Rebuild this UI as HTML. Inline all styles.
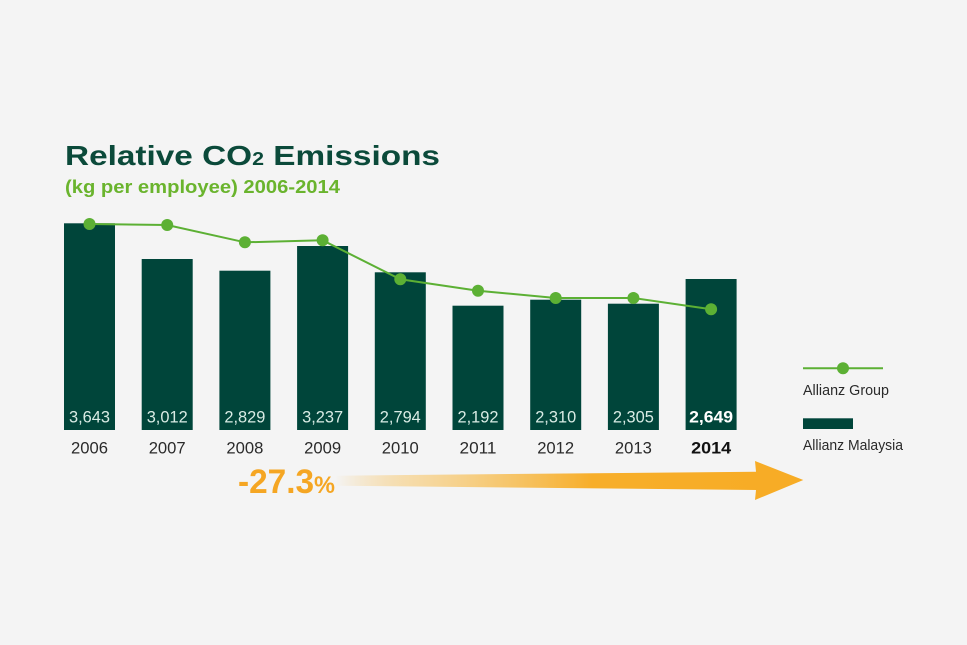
<!DOCTYPE html>
<html><head><meta charset="utf-8"><style>
html,body{margin:0;padding:0;background:#f4f4f4;}
svg{display:block;}
</style></head><body>
<svg width="967" height="645" viewBox="0 0 967 645" xmlns="http://www.w3.org/2000/svg" font-family="'Liberation Sans', sans-serif">
<defs>
<linearGradient id="ag" x1="335" y1="0" x2="803" y2="0" gradientUnits="userSpaceOnUse">
<stop offset="0" stop-color="#f7ac25" stop-opacity="0"/>
<stop offset="0.15" stop-color="#f7c462" stop-opacity="0.5"/>
<stop offset="0.55" stop-color="#f7ae2a" stop-opacity="1"/>
<stop offset="1" stop-color="#f7ac25" stop-opacity="1"/>
</linearGradient>
</defs>
<rect width="967" height="645" fill="#f4f4f4"/>
<text x="65" y="165" font-size="28" font-weight="bold" fill="#0b4a3a" textLength="375" lengthAdjust="spacingAndGlyphs">Relative CO<tspan font-size="18">2</tspan> Emissions</text>
<text x="65" y="193" font-size="18" font-weight="bold" fill="#6ab42d" textLength="275" lengthAdjust="spacingAndGlyphs">(kg per employee) 2006-2014</text>
<g fill="#00453a">
<rect x="64" y="223.3" width="51" height="206.7"/>
<rect x="141.7" y="259" width="51" height="171"/>
<rect x="219.4" y="270.7" width="51" height="159.3"/>
<rect x="297.1" y="246" width="51" height="184"/>
<rect x="374.8" y="272.3" width="51" height="157.7"/>
<rect x="452.5" y="305.7" width="51" height="124.3"/>
<rect x="530.2" y="299.7" width="51" height="130.3"/>
<rect x="607.9" y="303.7" width="51" height="126.3"/>
<rect x="685.6" y="279" width="51" height="151"/>
</g>
<polyline points="89.5,224 167.2,225 244.9,242.3 322.6,240.3 400.3,279.3 478,290.7 555.7,298 633.4,298 711.1,309.3" fill="none" stroke="#5cb034" stroke-width="2"/>
<g fill="#5cb034">
<circle cx="89.5" cy="224" r="6"/><circle cx="167.2" cy="225" r="6"/><circle cx="244.9" cy="242.3" r="6"/><circle cx="322.6" cy="240.3" r="6"/><circle cx="400.3" cy="279.3" r="6"/><circle cx="478" cy="290.7" r="6"/><circle cx="555.7" cy="298" r="6"/><circle cx="633.4" cy="298" r="6"/><circle cx="711.1" cy="309.3" r="6"/>
</g>
<g font-size="17" fill="#d8ebe4" text-anchor="middle">
<text x="89.5" y="422.7" textLength="41" lengthAdjust="spacingAndGlyphs">3,643</text>
<text x="167.2" y="422.7" textLength="41" lengthAdjust="spacingAndGlyphs">3,012</text>
<text x="244.9" y="422.7" textLength="41" lengthAdjust="spacingAndGlyphs">2,829</text>
<text x="322.6" y="422.7" textLength="41" lengthAdjust="spacingAndGlyphs">3,237</text>
<text x="400.3" y="422.7" textLength="41" lengthAdjust="spacingAndGlyphs">2,794</text>
<text x="478" y="422.7" textLength="41" lengthAdjust="spacingAndGlyphs">2,192</text>
<text x="555.7" y="422.7" textLength="41" lengthAdjust="spacingAndGlyphs">2,310</text>
<text x="633.4" y="422.7" textLength="41" lengthAdjust="spacingAndGlyphs">2,305</text>
<text x="711.1" y="422.7" textLength="44" lengthAdjust="spacingAndGlyphs" font-weight="bold" fill="#ffffff">2,649</text>
</g>
<g font-size="17" fill="#2a2a2a" text-anchor="middle">
<text x="89.5" y="453.3" textLength="37" lengthAdjust="spacingAndGlyphs">2006</text>
<text x="167.2" y="453.3" textLength="37" lengthAdjust="spacingAndGlyphs">2007</text>
<text x="244.9" y="453.3" textLength="37" lengthAdjust="spacingAndGlyphs">2008</text>
<text x="322.6" y="453.3" textLength="37" lengthAdjust="spacingAndGlyphs">2009</text>
<text x="400.3" y="453.3" textLength="37" lengthAdjust="spacingAndGlyphs">2010</text>
<text x="478" y="453.3" textLength="37" lengthAdjust="spacingAndGlyphs">2011</text>
<text x="555.7" y="453.3" textLength="37" lengthAdjust="spacingAndGlyphs">2012</text>
<text x="633.4" y="453.3" textLength="37" lengthAdjust="spacingAndGlyphs">2013</text>
<text x="711.1" y="453.3" textLength="40" lengthAdjust="spacingAndGlyphs" font-weight="bold" fill="#111">2014</text>
</g>
<polygon points="335,475.7 756,471.7 755,461 803.3,480 755,500 756,490 335,485.7" fill="url(#ag)"/>
<text x="238" y="493" font-size="34" font-weight="bold" fill="#f5a623" textLength="97" lengthAdjust="spacingAndGlyphs">-27.3<tspan font-size="24">%</tspan></text>
<line x1="803" y1="368.3" x2="883" y2="368.3" stroke="#5cb034" stroke-width="2"/>
<circle cx="843" cy="368.3" r="6" fill="#5cb034"/>
<text x="803" y="395" font-size="15" fill="#2a2a2a" textLength="86" lengthAdjust="spacingAndGlyphs">Allianz Group</text>
<rect x="803" y="418.3" width="50" height="10.7" fill="#00453a"/>
<text x="803" y="450" font-size="15" fill="#2a2a2a" textLength="100" lengthAdjust="spacingAndGlyphs">Allianz Malaysia</text>
</svg>
</body></html>
